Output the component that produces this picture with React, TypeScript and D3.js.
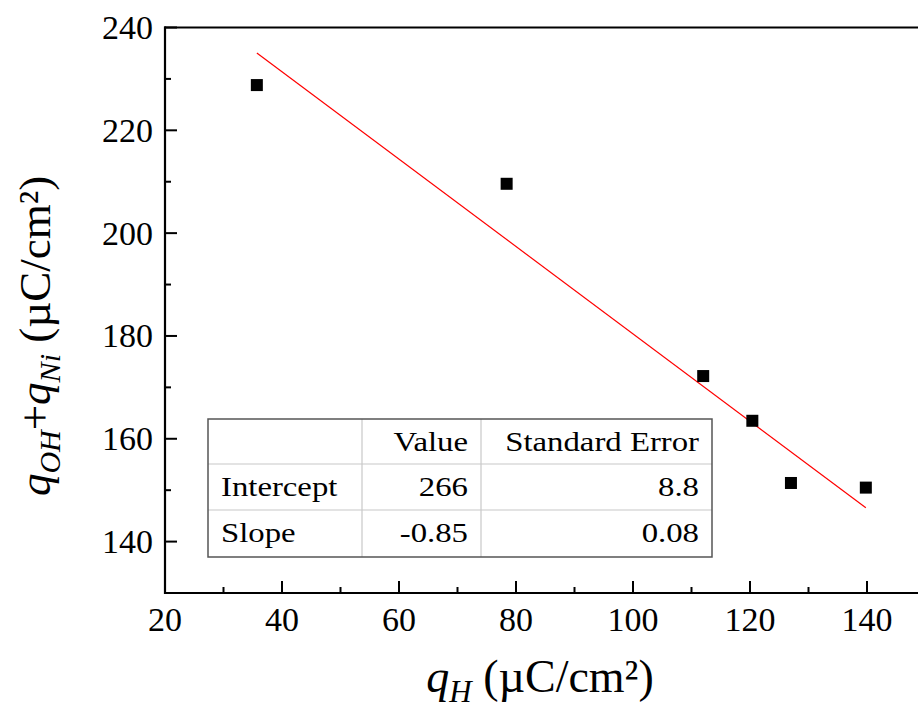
import React from "react";
import * as d3 from "d3";

const qH = [35.7, 78.4, 112.0, 120.4, 127.0, 139.8];
const qOHNi = [228.8, 209.6, 172.2, 163.5, 151.4, 150.5];
const fitIntercept = 265.4;
const fitSlope = -0.85;
const xMajorTicks = [20, 40, 60, 80, 100, 120, 140];
const xMinorTicks = [30, 50, 70, 90, 110, 130, 150];
const yMajorTicks = [140, 160, 180, 200, 220, 240];
const yMinorTicks = [150, 170, 190, 210, 230];
const tableHeader = ["", "Value", "Standard Error"];
const tableRows = [
  ["Intercept", "266", "8.8"],
  ["Slope", "-0.85", "0.08"],
];

const W = 918;
const H = 708;
const FONT = '"Liberation Serif", "Times New Roman", Times, serif';
const ts = { fontFamily: FONT };

function TText({ x, y, anchor, children }: { x: number; y: number; anchor?: string; children: any }) {
  return (
    <text
      transform={`translate(${x},${y}) scale(1.17,1)`}
      textAnchor={anchor || "start"}
      style={{ ...ts, fontSize: 28 }}
      fill="#000"
    >
      {children}
    </text>
  );
}

export default function App() {
  const x = d3.scaleLinear().domain([20, 150]).range([165, 925.5]);
  const y = d3.scaleLinear().domain([130, 240]).range([593, 27.5]);
  const x0 = x(20);
  const yB = y(130);
  const yT = y(240);

  const fitX = [d3.min(qH) as number, d3.max(qH) as number];
  const line = d3
    .line<number>()
    .x((d) => x(d))
    .y((d) => y(fitIntercept + fitSlope * d));

  const tX = [208, 362, 481, 712];
  const tY = [419, 464, 510, 557];
  const rows = [tableHeader, ...tableRows];

  return (
    <svg
      width={W}
      height={H}
      style={{ position: "absolute", left: 0, top: 0, background: "#fff", fontFamily: FONT }}
    >
      <path d={line(fitX) || ""} stroke="#ff0000" strokeWidth={1.2} fill="none" />
      {qH.map((v, i) => (
        <rect key={i} x={x(v) - 6} y={y(qOHNi[i]) - 6} width={12} height={12} fill="#000" />
      ))}

      <g>
        <rect x={tX[0]} y={tY[0]} width={tX[3] - tX[0]} height={tY[3] - tY[0]} fill="#fff" />
        {[tX[1], tX[2]].map((cx, i) => (
          <line key={"c" + i} x1={cx} x2={cx} y1={tY[0]} y2={tY[3]} stroke="#c8c8c8" strokeWidth={1.2} />
        ))}
        {[tY[1], tY[2]].map((cy, i) => (
          <line key={"r" + i} x1={tX[0]} x2={tX[3]} y1={cy} y2={cy} stroke="#c8c8c8" strokeWidth={1.2} />
        ))}
        <rect
          x={tX[0]}
          y={tY[0]}
          width={tX[3] - tX[0]}
          height={tY[3] - tY[0]}
          fill="none"
          stroke="#555"
          strokeWidth={1.5}
        />
        {rows.map((r, ri) => {
          const base = tY[ri] + 31.5;
          return (
            <g key={ri}>
              {r[0] ? <TText x={tX[0] + 13} y={base}>{r[0]}</TText> : null}
              <TText x={tX[2] - 13} y={base} anchor="end">{r[1]}</TText>
              <TText x={tX[3] - 13} y={base} anchor="end">{r[2]}</TText>
            </g>
          );
        })}
      </g>

      <line x1={x0} x2={x0} y1={yT - 1} y2={yB + 1} stroke="#000" strokeWidth={2.2} />
      <line x1={x0 - 1} x2={W} y1={yB} y2={yB} stroke="#000" strokeWidth={2.2} />
      <line x1={x0 - 1} x2={W} y1={yT} y2={yT} stroke="#000" strokeWidth={2.2} />

      {xMajorTicks.map((t) => (
        <g key={"xm" + t}>
          <line x1={x(t)} x2={x(t)} y1={yB} y2={yB - 12} stroke="#000" strokeWidth={2} />
          <text style={{ ...ts, fontSize: 34 }} x={x(t)} y={631} textAnchor="middle">{t}</text>
        </g>
      ))}
      {xMinorTicks.map((t) => (
        <line key={"xn" + t} x1={x(t)} x2={x(t)} y1={yB} y2={yB - 6} stroke="#000" strokeWidth={2} />
      ))}
      {yMajorTicks.map((t) => (
        <g key={"ym" + t}>
          <line x1={x0} x2={x0 + 12} y1={y(t)} y2={y(t)} stroke="#000" strokeWidth={2} />
          <text style={{ ...ts, fontSize: 34 }} x={153} y={y(t) + 11.5} textAnchor="end">{t}</text>
        </g>
      ))}
      {yMinorTicks.map((t) => (
        <line key={"yn" + t} x1={x0} x2={x0 + 6} y1={y(t)} y2={y(t)} stroke="#000" strokeWidth={2} />
      ))}

      <text style={{ ...ts, fontSize: 46 }} x={540} y={692} textAnchor="middle">
        <tspan fontStyle="italic">q</tspan>
        <tspan fontStyle="italic" style={{ fontSize: 31 }} dy={10}>H</tspan>
        <tspan dy={-10}> (µC/cm²)</tspan>
      </text>

      <text
        style={{ ...ts, fontSize: 45 }}
        transform={`translate(50, 336) rotate(-90)`}
        textAnchor="middle"
      >
        <tspan fontStyle="italic">q</tspan>
        <tspan fontStyle="italic" style={{ fontSize: 30 }} dy={10}>OH</tspan>
        <tspan dy={-10}>+</tspan>
        <tspan fontStyle="italic">q</tspan>
        <tspan fontStyle="italic" style={{ fontSize: 30 }} dy={10}>Ni</tspan>
        <tspan dy={-10}> (µC/cm²)</tspan>
      </text>
    </svg>
  );
}
